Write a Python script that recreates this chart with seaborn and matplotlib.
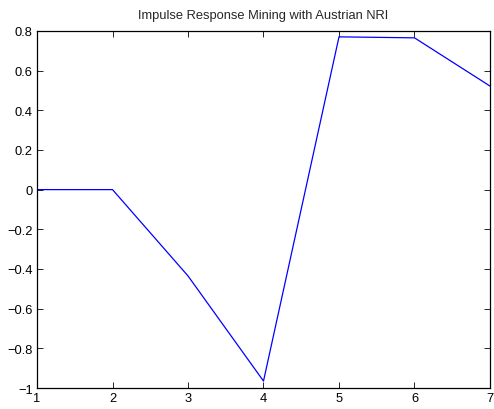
import matplotlib
matplotlib.use("Agg")
import matplotlib.pyplot as plt
import seaborn as sns
import pandas as pd

periods = [1, 2, 3, 4, 5, 6, 7]
response = [0.0, 0.0, -0.435, -0.965, 0.77, 0.765, 0.522]
x_ticks = [1, 2, 3, 4, 5, 6, 7]
y_ticks = [-1, -0.8, -0.6, -0.4, -0.2, 0, 0.2, 0.4, 0.6, 0.8]
title = "Impulse Response Mining with Austrian NRI"

sns.set_style("ticks")
plt.rcParams['font.family'] = ['Liberation Sans', 'DejaVu Sans']

df = pd.DataFrame({"period": periods, "response": response})

fig = plt.figure(figsize=(4.94, 4.10), dpi=100)
ax = fig.add_axes([0.0749, 0.0512, 0.917, 0.871])
sns.lineplot(data=df, x="period", y="response", color="#0000ff", linewidth=0.9, ax=ax)
ax.set_xlim(1, 7)
ax.set_ylim(-1, 0.8)
ax.set_xticks(x_ticks)
ax.set_yticks(y_ticks)
ax.set_xticklabels([str(t) for t in x_ticks])
ax.set_yticklabels(["\u22121" if t == -1 else ("0" if t == 0 else f"{t:g}".replace("-", "\u2212")) for t in y_ticks])
ax.set_xlabel("")
ax.set_ylabel("")
ax.tick_params(direction="in", top=True, right=True, length=4, width=0.6, labelsize=9.3, pad=3, colors="black")
for s in ax.spines.values():
    s.set_visible(True)
    s.set_linewidth(0.9)
    s.set_color("black")
ax.set_title(title, fontsize=9.3, pad=9)
fig.savefig("out.png", dpi=100)
